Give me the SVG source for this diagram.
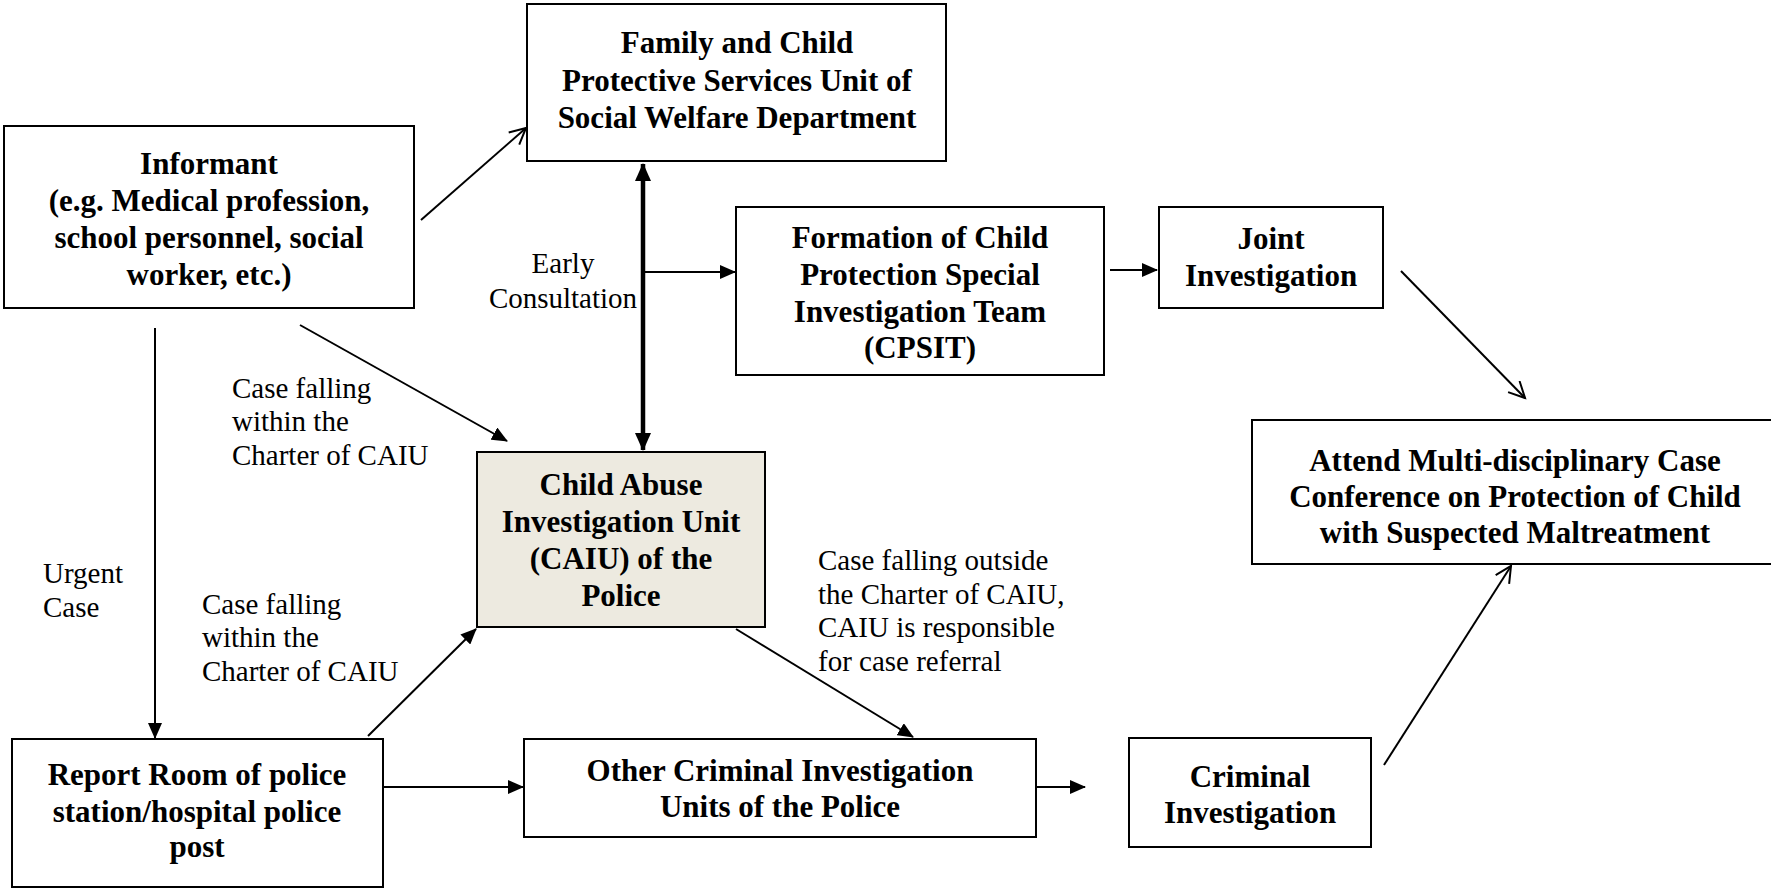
<svg xmlns="http://www.w3.org/2000/svg" width="1771" height="888" viewBox="0 0 1771 888">
<style>
.box{fill:#fff;stroke:#000;stroke-width:2}
.caiu{fill:#EDEAE0;stroke:#000;stroke-width:2}
.nt{font-family:"Liberation Serif","Times New Roman",serif;font-weight:bold;font-size:31px;text-anchor:middle;fill:#000}
.lb{font-family:"Liberation Serif","Times New Roman",serif;font-size:29px;fill:#000}
.ln{stroke:#000;stroke-width:2;fill:none}
.fa{marker-end:url(#fill)}
.oa{marker-end:url(#open)}
</style>
<defs>
<marker id="fill" markerUnits="userSpaceOnUse" markerWidth="16" markerHeight="14" refX="15" refY="7" orient="auto">
<path d="M0,0 L16,7 L0,14 z" fill="#000"/>
</marker>
<marker id="fillB" markerUnits="userSpaceOnUse" markerWidth="18" markerHeight="16" refX="17" refY="8" orient="auto-start-reverse">
<path d="M0,0 L18,8 L0,16 z" fill="#000"/>
</marker>
<marker id="open" markerUnits="userSpaceOnUse" markerWidth="20" markerHeight="20" refX="17" refY="9" orient="auto">
<path d="M1,1 L17,9 L1,17" fill="none" stroke="#000" stroke-width="2"/>
</marker>
</defs>

<g id="connectors">
<line class="ln oa" x1="421" y1="220" x2="526" y2="128"/>
<line class="ln fa" x1="300" y1="325" x2="507" y2="441"/>
<line class="ln fa" x1="155" y1="328" x2="155" y2="738"/>
<line x1="643" y1="164" x2="643" y2="450" stroke="#000" stroke-width="4.5" marker-start="url(#fillB)" marker-end="url(#fillB)"/>
<line class="ln fa" x1="643" y1="272" x2="735" y2="272"/>
<line class="ln fa" x1="1110" y1="270" x2="1157" y2="270"/>
<line class="ln oa" x1="1401" y1="271" x2="1525" y2="398"/>
<line class="ln fa" x1="368" y1="736" x2="476" y2="629"/>
<line class="ln fa" x1="383" y1="787" x2="523" y2="787"/>
<line class="ln fa" x1="736" y1="629" x2="913" y2="737"/>
<line class="ln fa" x1="1037" y1="787" x2="1085" y2="787"/>
<line class="ln oa" x1="1384" y1="765" x2="1511" y2="566"/>
</g>

<g id="labels">
<text class="lb" text-anchor="middle"><tspan x="563" y="273">Early</tspan><tspan x="563" y="308">Consultation</tspan></text>
<text class="lb"><tspan x="232" y="398">Case falling</tspan><tspan x="232" y="431">within the</tspan><tspan x="232" y="465">Charter of CAIU</tspan></text>
<text class="lb"><tspan x="43" y="583">Urgent</tspan><tspan x="43" y="617">Case</tspan></text>
<text class="lb"><tspan x="202" y="614">Case falling</tspan><tspan x="202" y="647">within the</tspan><tspan x="202" y="681">Charter of CAIU</tspan></text>
<text class="lb"><tspan x="818" y="570">Case falling outside</tspan><tspan x="818" y="604">the Charter of CAIU,</tspan><tspan x="818" y="637">CAIU is responsible</tspan><tspan x="818" y="671">for case referral</tspan></text>
</g>

<g id="family">
<rect class="box" x="527" y="4" width="419" height="157"/>
<text class="nt"><tspan x="737" y="53">Family and Child</tspan><tspan x="737" y="91">Protective Services Unit of</tspan><tspan x="737" y="128">Social Welfare Department</tspan></text>
</g>

<g id="informant">
<rect class="box" x="4" y="126" width="410" height="182"/>
<text class="nt"><tspan x="209" y="174">Informant</tspan><tspan x="209" y="211">(e.g. Medical profession,</tspan><tspan x="209" y="248">school personnel, social</tspan><tspan x="209" y="285">worker, etc.)</tspan></text>
</g>

<g id="cpsit">
<rect class="box" x="736" y="207" width="368" height="168"/>
<text class="nt"><tspan x="920" y="248">Formation of Child</tspan><tspan x="920" y="285">Protection Special</tspan><tspan x="920" y="322">Investigation Team</tspan><tspan x="920" y="358">(CPSIT)</tspan></text>
</g>

<g id="joint">
<rect class="box" x="1159" y="207" width="224" height="101"/>
<text class="nt"><tspan x="1271" y="249">Joint</tspan><tspan x="1271" y="286">Investigation</tspan></text>
</g>

<g id="conference">
<rect class="box" x="1252" y="420" width="530" height="144"/>
<text class="nt"><tspan x="1515" y="471">Attend Multi-disciplinary Case</tspan><tspan x="1515" y="507">Conference on Protection of Child</tspan><tspan x="1515" y="543">with Suspected Maltreatment</tspan></text>
</g>

<g id="caiu">
<rect class="caiu" x="477" y="452" width="288" height="175"/>
<text class="nt"><tspan x="621" y="495">Child Abuse</tspan><tspan x="621" y="532">Investigation Unit</tspan><tspan x="621" y="569">(CAIU) of the</tspan><tspan x="621" y="606">Police</tspan></text>
</g>

<g id="report">
<rect class="box" x="12" y="739" width="371" height="148"/>
<text class="nt"><tspan x="197" y="785">Report Room of police</tspan><tspan x="197" y="822">station/hospital police</tspan><tspan x="197" y="857">post</tspan></text>
</g>

<g id="other">
<rect class="box" x="524" y="739" width="512" height="98"/>
<text class="nt"><tspan x="780" y="781">Other Criminal Investigation</tspan><tspan x="780" y="817">Units of the Police</tspan></text>
</g>

<g id="criminal">
<rect class="box" x="1129" y="738" width="242" height="109"/>
<text class="nt"><tspan x="1250" y="787">Criminal</tspan><tspan x="1250" y="823">Investigation</tspan></text>
</g>
</svg>
